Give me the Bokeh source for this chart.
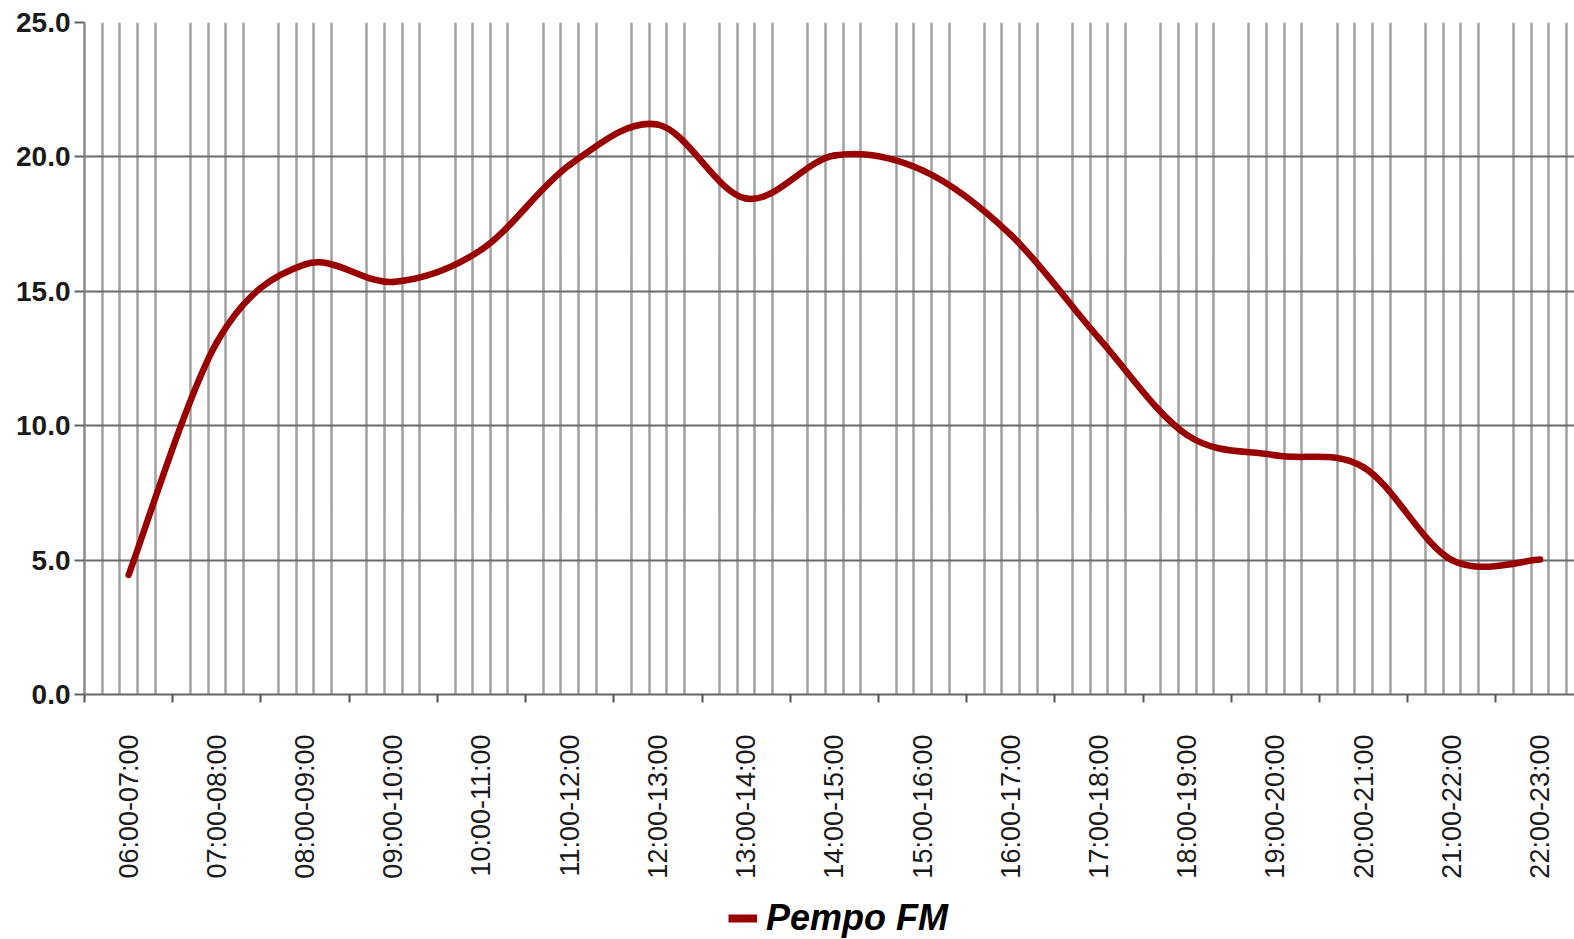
import math
from bokeh.plotting import figure
from bokeh.layouts import column
from bokeh.models import FixedTicker, NumeralTickFormatter, Range1d, Legend, LegendItem
from bokeh.embed import file_html
from bokeh.resources import INLINE

categories = ["06:00-07:00", "07:00-08:00", "08:00-09:00", "09:00-10:00", "10:00-11:00",
              "11:00-12:00", "12:00-13:00", "13:00-14:00", "14:00-15:00", "15:00-16:00",
              "16:00-17:00", "17:00-18:00", "18:00-19:00", "19:00-20:00", "20:00-21:00",
              "21:00-22:00", "22:00-23:00"]
values = [4.45, 13.1, 16.0, 15.35, 16.55, 19.7, 21.2, 18.45, 20.05, 19.5,
          17.1, 13.25, 9.65, 8.9, 8.45, 5.0, 5.02]
y_ticks = [0, 5, 10, 15, 20, 25]
series_name = "Pempo FM"
line_color = "#990000"

n = len(categories)
xs = [i + 0.5 for i in range(n)]


def nb(arr, i):
    return arr[max(0, min(n - 1, i))]


# smooth (Excel-style) curve: cubic Bezier segments through the data points
x0 = xs[:-1]
y0 = values[:-1]
x1 = xs[1:]
y1 = values[1:]
cx0 = [xs[i] + (nb(xs, i + 1) - nb(xs, i - 1)) / 6 for i in range(n - 1)]
cy0 = [values[i] + (nb(values, i + 1) - nb(values, i - 1)) / 6 for i in range(n - 1)]
cx1 = [xs[i + 1] - (nb(xs, i + 2) - nb(xs, i)) / 6 for i in range(n - 1)]
cy1 = [values[i + 1] - (nb(values, i + 2) - nb(values, i)) / 6 for i in range(n - 1)]

W = 1574
H1 = 881
H2 = 58
p = figure(width=W, height=H1, output_backend="svg", toolbar_location=None,
           x_range=Range1d(0, 16.89), y_range=Range1d(0, 25),
           min_border_left=84, min_border_right=0, min_border_top=22,
           min_border_bottom=176)
p.outline_line_color = None
p.background_fill_color = "white"
p.border_fill_color = "white"

# grids
p.xgrid.ticker = FixedTicker(ticks=[i + k / 5 for i in range(n) for k in range(1, 5)])
p.xgrid.grid_line_color = "#a0a0a0"
p.xgrid.grid_line_width = 2.5
p.ygrid.ticker = FixedTicker(ticks=y_ticks)
p.ygrid.grid_line_color = "#6a6a6a"
p.ygrid.grid_line_width = 2

# x axis
xa = p.xaxis[0]
xa.ticker = FixedTicker(ticks=xs, minor_ticks=list(range(0, n + 1)))
xa.major_label_overrides = {xv: c for xv, c in zip(xs, categories)}
xa.major_label_orientation = math.pi / 2
xa.major_tick_line_color = None
xa.major_tick_out = 0
xa.major_tick_in = 0
xa.minor_tick_line_color = "#555555"
xa.minor_tick_line_width = 2
xa.minor_tick_out = 8
xa.minor_tick_in = 0
xa.major_label_standoff = 32
xa.axis_line_color = "#666666"
xa.axis_line_width = 2
xa.major_label_text_font = "Liberation Sans"
xa.major_label_text_font_size = "27px"
xa.major_label_text_color = "#1a1a1a"

# y axis
ya = p.yaxis[0]
ya.ticker = FixedTicker(ticks=y_ticks)
ya.formatter = NumeralTickFormatter(format="0.0")
ya.major_tick_out = 10
ya.major_tick_in = 0
ya.major_tick_line_color = "#666666"
ya.major_tick_line_width = 2
ya.minor_tick_line_color = None
ya.axis_line_color = "#8a8a8a"
ya.axis_line_width = 2.5
ya.major_label_standoff = 4
ya.major_label_text_font = "Liberation Sans"
ya.major_label_text_font_style = "bold"
ya.major_label_text_font_size = "28px"
ya.major_label_text_color = "#1a1a1a"

p.bezier(x0=x0, y0=y0, x1=x1, y1=y1, cx0=cx0, cy0=cy0, cx1=cx1, cy1=cy1,
         line_color=line_color, line_width=6.5, line_cap="round")

# legend strip below the chart (its frame is aligned with the chart frame)
p2 = figure(width=W, height=H2, output_backend="svg", toolbar_location=None,
            x_axis_type=None, y_axis_type=None,
            x_range=Range1d(0, 1), y_range=Range1d(-1, 0), min_border=0)
p2.outline_line_color = None
p2.grid.visible = False
p2.border_fill_color = "white"
p2.background_fill_color = "white"
# the series itself (lies outside this strip's ranges, so only its legend entry shows)
lr = p2.line(x=xs, y=values, line_color=line_color, line_width=8)
legend = Legend(items=[LegendItem(label=series_name, renderers=[lr])],
                location=(644, 0), orientation="horizontal",
                padding=0, margin=0, border_line_color=None,
                background_fill_alpha=0,
                label_text_font="Liberation Sans", label_text_font_style="bold italic",
                label_text_font_size="36px", label_text_color="black",
                glyph_width=29, glyph_height=40, label_height=40, label_standoff=9)
p2.add_layout(legend)

layout = column(p, p2, spacing=0)
open("out.html", "w").write(file_html(layout, INLINE))
